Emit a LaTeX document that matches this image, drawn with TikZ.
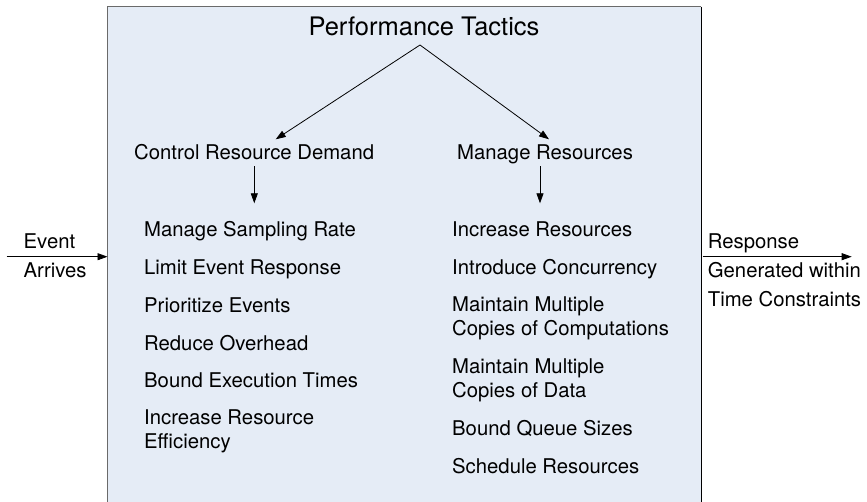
\documentclass[tikz,border=0pt]{standalone}
\usepackage{fontspec}
\setmainfont{TeX Gyre Heros}
\usetikzlibrary{arrows.meta}
\definecolor{boxfill}{HTML}{E5ECF6}
\definecolor{boxedge}{HTML}{6A6A6A}
\tikzset{
  txt/.style={inner sep=0pt, anchor=base west, align=left, font=\fontsize{20.3}{24}\selectfont},
  ttl/.style={inner sep=0pt, anchor=base, font=\fontsize{25.5}{30}\selectfont},
  arr/.style={line width=0.8pt, -{Triangle[length=10pt,width=7pt]}},
}
\begin{document}
\begin{tikzpicture}[x=1pt,y=-1pt]
\useasboundingbox (0,0) rectangle (867,501);
% panel
\fill[boxfill] (107.5,6.5) rectangle (701,502);
\draw[boxedge, line width=1.6pt] (107.5,502) -- (107.5,6.5) -- (701,6.5);
\draw[black, line width=1pt] (701,6.5) -- (701,502);
\coordinate (boxin) at (107.5,256.7);
\coordinate (boxout) at (702.7,256.7);
% title
\node[ttl] (title) at (424,35) {Performance Tactics};
\coordinate (apex) at (420,45);
% headings
\node[txt] (crd) at (134,159) {Control Resource Demand};
\node[txt] (mr) at (457,159) {Manage Resources};
\coordinate (crdtip) at (275.7,139.3);
\coordinate (mrtip) at (549,139.3);
\draw[arr] (apex) -- (crdtip);
\draw[arr] (apex) -- (mrtip);
\coordinate (crdfrom) at (254.3,166);
\coordinate (crdto) at (254.3,203.3);
\coordinate (mrfrom) at (540,166);
\coordinate (mrto) at (540,203.3);
\draw[arr] (crdfrom) -- (crdto);
\draw[arr] (mrfrom) -- (mrto);
% left list (multi-line nodes: base = last line)
\node[txt] (l1) at (144,236.7) {Manage Sampling Rate};
\node[txt] (l2) at (144,274.6) {Limit Event Response};
\node[txt] (l3) at (144,312.4) {Prioritize Events};
\node[txt] (l4) at (144,350.1) {Reduce Overhead};
\node[txt] (l5) at (144,387.8) {Bound Execution Times};
\node[txt] (l6) at (144,448.5) {Increase Resource\\Efficiency};
% right list
\node[txt] (r1) at (452,236.7) {Increase Resources};
\node[txt] (r2) at (452,274.8) {Introduce Concurrency};
\node[txt] (r3) at (452,335.7) {Maintain Multiple\\Copies of Computations};
\node[txt] (r4) at (452,397.3) {Maintain Multiple\\Copies of Data};
\node[txt] (r5) at (452,435.7) {Bound Queue Sizes};
\node[txt] (r6) at (452,473.3) {Schedule Resources};
% input / output
\coordinate (evstart) at (6.7,256.7);
\draw[arr] (evstart) -- (boxin);
\node[txt] (ev) at (23.5,248.3) {Event};
\node[txt] (ar) at (23.5,277.3) {Arrives};
\coordinate (respend) at (851.7,256.7);
\draw[arr] (boxout) -- (respend);
\node[txt] (resp) at (707.7,248.3) {Response};
\node[txt, font=\fontsize{20.3}{29}\selectfont] (gen) at (707.7,306.3) {Generated within\\Time Constraints};
\end{tikzpicture}
\end{document}
